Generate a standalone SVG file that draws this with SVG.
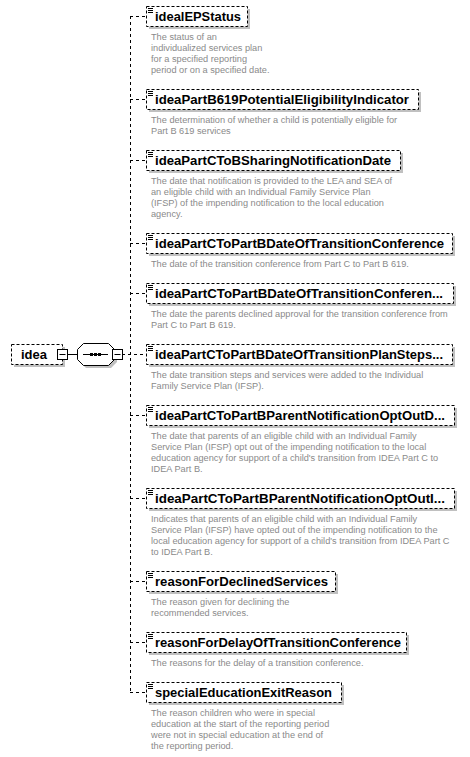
<svg xmlns="http://www.w3.org/2000/svg" width="470" height="757" viewBox="0 0 470 757">
<style>
.sh{fill:#c0c0c0;stroke:none}
.box{fill:#fff;stroke:#000;stroke-width:1;stroke-dasharray:3,2}
.ic{stroke:#000;stroke-width:1;fill:none}
.nm{font-family:"Liberation Sans",Arial,sans-serif;font-weight:bold;font-size:13px;fill:#000}
.ds{font-family:"Liberation Sans",Arial,sans-serif;font-size:9.2px;fill:#8a8a8a}
.con{stroke:#000;stroke-width:1;fill:none;stroke-dasharray:3,3}
.sol{stroke:#000;stroke-width:1;fill:none}
.mb{fill:#fff;stroke:#000;stroke-width:1}
</style>
<rect width="470" height="757" fill="#fff"/>

<g id="connectors">
<path class="con" d="M130.5 16V692"/>
<path class="con" d="M122 354.5H146"/>
<path class="con" d="M130 16.5H146M130 99.5H146M130 160.5H146M130 243.5H146M130 293.5H146M130 415.5H146M130 498.5H146M130 581.5H146M130 642.5H146M130 692.5H146"/>
<path class="sol" d="M67 354.5H77"/>
</g>

<g id="idea">
<rect class="sh" x="14" y="347" width="51" height="20"/>
<rect class="box" x="11.5" y="344.5" width="51" height="20"/>
<text class="nm" x="21" y="359" textLength="26" lengthAdjust="spacingAndGlyphs">idea</text>
<rect class="mb" x="57.5" y="349.5" width="10" height="10"/>
<path class="sol" d="M59.5 354.5H65.5"/>
</g>

<g id="sequence">
<path class="sh" d="M86 346H111L117 352V362L111 368H86L80 362V352Z"/>
<path fill="#fff" stroke="#000" d="M83.5 343.5H108.5L114.5 349.5V359.5L108.5 365.5H83.5L77.5 359.5V349.5Z"/>
<path class="sol" d="M83 354.5H108"/>
<rect x="90" y="353" width="3" height="3" fill="#000"/>
<rect x="94" y="353" width="3" height="3" fill="#000"/>
<rect x="98" y="353" width="3" height="3" fill="#000"/>
<rect class="mb" x="112.5" y="349.5" width="10" height="10"/>
<path class="sol" d="M114.5 354.5H120.5"/>
</g>

<g id="idealEPStatus">
<rect class="sh" x="149" y="9" width="101" height="20"/>
<rect class="box" x="146.5" y="6.5" width="101" height="20"/>
<path class="ic" d="M148 8.5h5M148 10.5h5M148 12.5h5"/>
<text class="nm" x="155" y="21" textLength="86" lengthAdjust="spacingAndGlyphs">idealEPStatus</text>
<text class="ds"><tspan x="151" y="40">The status of an</tspan><tspan x="151" y="51">individualized services plan</tspan><tspan x="151" y="62">for a specified reporting</tspan><tspan x="151" y="73">period or on a specified date.</tspan></text>
</g>

<g id="ideaPartB619PotentialEligibilityIndicator">
<rect class="sh" x="149" y="92" width="272" height="20"/>
<rect class="box" x="146.5" y="89.5" width="272" height="20"/>
<path class="ic" d="M148 91.5h5M148 93.5h5M148 95.5h5"/>
<text class="nm" x="155" y="104" textLength="254" lengthAdjust="spacingAndGlyphs">ideaPartB619PotentialEligibilityIndicator</text>
<text class="ds"><tspan x="151" y="123">The determination of whether a child is potentially eligible for</tspan><tspan x="151" y="134">Part B 619 services</tspan></text>
</g>

<g id="ideaPartCToBSharingNotificationDate">
<rect class="sh" x="149" y="153" width="254" height="20"/>
<rect class="box" x="146.5" y="150.5" width="254" height="20"/>
<path class="ic" d="M148 152.5h5M148 154.5h5M148 156.5h5"/>
<text class="nm" x="155" y="165" textLength="236" lengthAdjust="spacingAndGlyphs">ideaPartCToBSharingNotificationDate</text>
<text class="ds"><tspan x="151" y="184">The date that notification is provided to the LEA and SEA of</tspan><tspan x="151" y="195">an eligible child with an  Individual Family Service Plan</tspan><tspan x="151" y="206">(IFSP) of the impending notification to the local education</tspan><tspan x="151" y="217">agency.</tspan></text>
</g>

<g id="ideaPartCToPartBDateOfTransitionConference">
<rect class="sh" x="149" y="236" width="306" height="20"/>
<rect class="box" x="146.5" y="233.5" width="306" height="20"/>
<path class="ic" d="M148 235.5h5M148 237.5h5M148 239.5h5"/>
<text class="nm" x="155" y="248" textLength="289" lengthAdjust="spacingAndGlyphs">ideaPartCToPartBDateOfTransitionConference</text>
<text class="ds"><tspan x="151" y="267">The date of the transition conference from Part C to Part B 619.</tspan></text>
</g>

<g id="ideaPartCToPartBDateOfTransitionConferenceDeclined">
<rect class="sh" x="149" y="286" width="307" height="20"/>
<rect class="box" x="146.5" y="283.5" width="307" height="20"/>
<path class="ic" d="M148 285.5h5M148 287.5h5M148 289.5h5"/>
<text class="nm" x="155" y="298" textLength="288" lengthAdjust="spacingAndGlyphs">ideaPartCToPartBDateOfTransitionConferen...</text>
<text class="ds"><tspan x="151" y="317">The date the parents declined approval for the transition conference from</tspan><tspan x="151" y="328">Part C to Part B 619.</tspan></text>
</g>

<g id="ideaPartCToPartBDateOfTransitionPlanSteps">
<rect class="sh" x="149" y="347" width="306" height="20"/>
<rect class="box" x="146.5" y="344.5" width="306" height="20"/>
<path class="ic" d="M148 346.5h5M148 348.5h5M148 350.5h5"/>
<text class="nm" x="155" y="359" textLength="288" lengthAdjust="spacingAndGlyphs">ideaPartCToPartBDateOfTransitionPlanSteps...</text>
<text class="ds"><tspan x="151" y="378">The date transition steps and services were added to the Individual</tspan><tspan x="151" y="389">Family Service Plan (IFSP).</tspan></text>
</g>

<g id="ideaPartCToPartBParentNotificationOptOutDate">
<rect class="sh" x="149" y="408" width="308" height="20"/>
<rect class="box" x="146.5" y="405.5" width="308" height="20"/>
<path class="ic" d="M148 407.5h5M148 409.5h5M148 411.5h5"/>
<text class="nm" x="155" y="420" textLength="290" lengthAdjust="spacingAndGlyphs">ideaPartCToPartBParentNotificationOptOutD...</text>
<text class="ds"><tspan x="151" y="439">The date that parents of an eligible child with an Individual Family</tspan><tspan x="151" y="450">Service Plan (IFSP) opt out of the impending notification to the local</tspan><tspan x="151" y="461">education agency for support of a child's transition from IDEA Part C to</tspan><tspan x="151" y="472">IDEA Part B.</tspan></text>
</g>

<g id="ideaPartCToPartBParentNotificationOptOutIndicator">
<rect class="sh" x="149" y="491" width="308" height="20"/>
<rect class="box" x="146.5" y="488.5" width="308" height="20"/>
<path class="ic" d="M148 490.5h5M148 492.5h5M148 494.5h5"/>
<text class="nm" x="155" y="503" textLength="290" lengthAdjust="spacingAndGlyphs">ideaPartCToPartBParentNotificationOptOutI...</text>
<text class="ds"><tspan x="151" y="522">Indicates that parents of an eligible child with an Individual Family</tspan><tspan x="151" y="533">Service Plan (IFSP) have opted out of the impending notification to the</tspan><tspan x="151" y="544">local education agency for support of a child's transition from IDEA Part C</tspan><tspan x="151" y="555">to IDEA Part B.</tspan></text>
</g>

<g id="reasonForDeclinedServices">
<rect class="sh" x="149" y="574" width="189" height="20"/>
<rect class="box" x="146.5" y="571.5" width="189" height="20"/>
<path class="ic" d="M148 573.5h5M148 575.5h5M148 577.5h5"/>
<text class="nm" x="155" y="586" textLength="173" lengthAdjust="spacingAndGlyphs">reasonForDeclinedServices</text>
<text class="ds"><tspan x="151" y="605">The reason given for declining the</tspan><tspan x="151" y="616">recommended services.</tspan></text>
</g>

<g id="reasonForDelayOfTransitionConference">
<rect class="sh" x="149" y="635" width="260" height="20"/>
<rect class="box" x="146.5" y="632.5" width="260" height="20"/>
<path class="ic" d="M148 634.5h5M148 636.5h5M148 638.5h5"/>
<text class="nm" x="155" y="647" textLength="246" lengthAdjust="spacingAndGlyphs">reasonForDelayOfTransitionConference</text>
<text class="ds"><tspan x="151" y="666">The reasons for the delay of a transition conference.</tspan></text>
</g>

<g id="specialEducationExitReason">
<rect class="sh" x="149" y="685" width="195" height="20"/>
<rect class="box" x="146.5" y="682.5" width="195" height="20"/>
<path class="ic" d="M148 684.5h5M148 686.5h5M148 688.5h5"/>
<text class="nm" x="155" y="697" textLength="177" lengthAdjust="spacingAndGlyphs">specialEducationExitReason</text>
<text class="ds"><tspan x="151" y="716">The reason children who were in special</tspan><tspan x="151" y="727">education at the start of the reporting period</tspan><tspan x="151" y="738">were not in special education at the end of</tspan><tspan x="151" y="749">the reporting period.</tspan></text>
</g>
</svg>
